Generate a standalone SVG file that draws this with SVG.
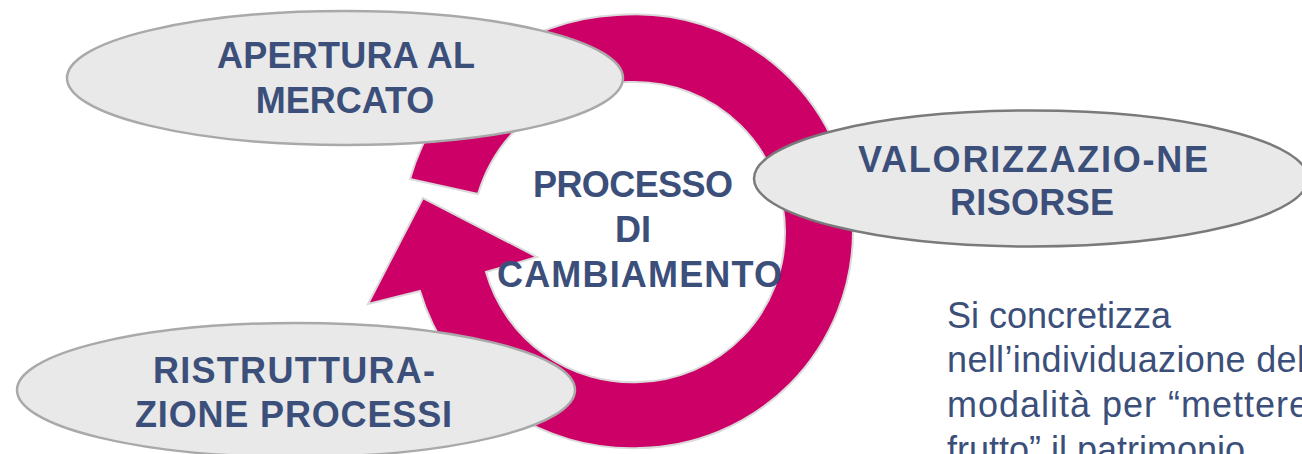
<svg xmlns="http://www.w3.org/2000/svg" width="1302" height="454" viewBox="0 0 1302 454">
  <style>
    .ell { fill: #E9E9E9; stroke: #A9A9A9; stroke-width: 2.5; }
    .ell-dark { fill: #E9E9E9; stroke: #7A7A7A; stroke-width: 2.5; }
    .lbl { font-family: "Liberation Sans", Arial, sans-serif; font-weight: bold; font-size: 36px; fill: #3B4F7A; text-anchor: middle; }
    .body { font-family: "Liberation Sans", Arial, sans-serif; font-size: 36px; fill: #3B4F7A; }
    .ring { fill: #CC0066; stroke: #DADADA; stroke-width: 2; stroke-linejoin: miter; }
  </style>
  <rect width="1302" height="454" fill="#FFFFFF"/>

  <g id="connectors">
    <path class="ring" d="M410,179 A226,226 0 0 1 617,15 A217,217 0 0 1 853,232 A217,217 0 0 1 640,448 A220,220 0 0 1 420,291 L368,304 L423,198 L537,257 L486,272 A152,152 0 0 0 640,382 A150,150 0 0 0 785,232 A150,150 0 0 0 633,82 A158,158 0 0 0 478,194 Z"/>
  </g>

  <g id="center-label">
    <text class="lbl" x="633" y="197" textLength="200">PROCESSO</text>
    <text class="lbl" x="633" y="242">DI</text>
    <text class="lbl" x="639.5" y="287" textLength="285">CAMBIAMENTO</text>
  </g>

  <g id="node-apertura">
    <ellipse class="ell" cx="345" cy="78" rx="278" ry="67"/>
    <text class="lbl" x="346" y="68" textLength="258">APERTURA AL</text>
    <text class="lbl" x="345" y="113">MERCATO</text>
  </g>

  <g id="node-valorizzazione">
    <ellipse class="ell-dark" cx="1031" cy="178.5" rx="277" ry="68"/>
    <text class="lbl" x="1033" y="172" textLength="350">VALORIZZAZIO-NE</text>
    <text class="lbl" x="1032" y="215" textLength="164">RISORSE</text>
  </g>

  <g id="node-ristrutturazione">
    <ellipse class="ell" cx="296" cy="390" rx="279" ry="67"/>
    <text class="lbl" x="294" y="383" textLength="282">RISTRUTTURA-</text>
    <text class="lbl" x="293.5" y="427" textLength="317">ZIONE PROCESSI</text>
  </g>

  <g id="description">
    <text class="body" x="947" y="328">Si concretizza</text>
    <text class="body" x="947" y="372" textLength="358">nell’individuazione del</text>
    <text class="body" x="947" y="417" textLength="362">modalità per “mettere</text>
    <text class="body" x="947" y="462">frutto” il patrimonio</text>
  </g>
</svg>
